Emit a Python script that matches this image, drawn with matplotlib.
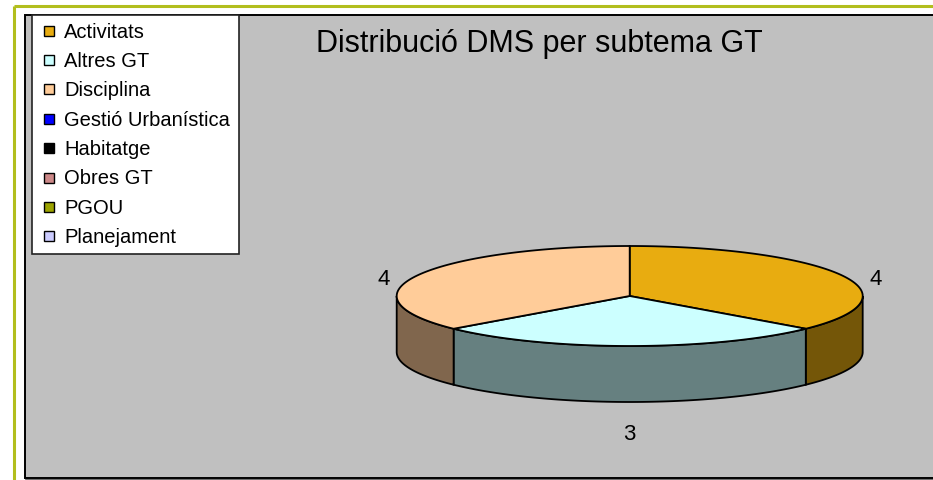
import numpy as np
import matplotlib
matplotlib.use('Agg')
import matplotlib.pyplot as plt
from matplotlib.patches import Polygon, Rectangle

plt.rcParams['font.family'] = ['Liberation Sans', 'DejaVu Sans']

titol = "Distribució DMS per subtema GT"

# categories del llegenda (totes) i colors
categories = ["Activitats", "Altres GT", "Disciplina", "Gestió Urbanística",
              "Habitatge", "Obres GT", "PGOU", "Planejament"]
colors = ["#E8AC10", "#CCFFFF", "#FFCC99", "#0000FF",
          "#000000", "#CC8888", "#9CA300", "#CCCCFF"]

# valors del pastis (nomes les que tenen dades)
valors = [4, 3, 4]

W, H = 933, 481
fig = plt.figure(figsize=(W / 100, H / 100), dpi=100)
ax = fig.add_axes([0, 0, 1, 1])
ax.set_xlim(0, W)
ax.set_ylim(H, 0)
ax.axis("off")

# marc exterior
oliva = "#B2BE1E"
ax.plot([14, W + 5], [7, 7], color=oliva, lw=2.2, solid_capstyle="butt")
ax.plot([14, 14], [7, H + 5], color=oliva, lw=2.2, solid_capstyle="butt")

# fons gris de l'area
ax.add_patch(Rectangle((25, 16), W, 463, facecolor="#C0C0C0",
                       edgecolor="black", lw=1.4, zorder=1))
ax.plot([26, W], [480.5, 480.5], color="#555555", lw=1.2, zorder=1)

ax.text(539, 44, titol, fontsize=22, ha="center", va="center", zorder=5)

# llegenda
ax.add_patch(Rectangle((32, 16), 207, 239, facecolor="white",
                       edgecolor="#222222", lw=1.2, zorder=3))
for i, (cat, col) in enumerate(zip(categories, colors)):
    y = 31.5 + i * 29.4
    ax.add_patch(Rectangle((44, y - 5), 10, 10, facecolor=col,
                           edgecolor="black", lw=1.0, zorder=4))
    ax.text(64, y + 0.5, cat, fontsize=14.5, ha="left", va="center", zorder=4)

# pastis 3D
cx, cy = 629.7, 297
a, b = 233, 50
prof = 56

def vora(t):
    t = np.radians(t)
    return cx + a * np.cos(t), cy - b * np.sin(t)

total = sum(valors)
inici = 90.0
angles = []
for v in valors:
    fi = inici - v / total * 360.0
    angles.append((inici, fi))
    inici = fi

def fosc(c):
    r, g, bb = matplotlib.colors.to_rgb(c)
    return (r * 0.5, g * 0.5, bb * 0.5)

# cares laterals (nomes la meitat frontal)
for (t1, t2), col in zip(angles, colors):
    lo = max(min(t1, t2), -180)
    hi = min(max(t1, t2), 0)
    if lo >= hi:
        continue
    tt = np.linspace(hi, lo, 80)
    xs, ys = vora(tt)
    pts = np.column_stack([np.r_[xs, xs[::-1]], np.r_[ys, ys[::-1] + prof]])
    ax.add_patch(Polygon(pts, closed=True, facecolor=fosc(col),
                         edgecolor="black", lw=1.3, zorder=6))

# cares superiors
for (t1, t2), col in zip(angles, colors):
    tt = np.linspace(t1, t2, 120)
    xs, ys = vora(tt)
    pts = np.column_stack([np.r_[cx, xs], np.r_[cy, ys]])
    ax.add_patch(Polygon(pts, closed=True, facecolor=col,
                         edgecolor="black", lw=1.3, zorder=7))

# etiquetes de valor
for (t1, t2), v in zip(angles, valors):
    tm = np.radians((t1 + t2) / 2)
    lx = cx + 1.16 * a * np.cos(tm)
    ly = cy + prof / 2 - 110 * np.sin(tm)
    ax.text(lx, ly, str(v), fontsize=16, ha="center", va="center", zorder=8)

fig.savefig("out.png", dpi=100, facecolor="white")
plt.close(fig)
